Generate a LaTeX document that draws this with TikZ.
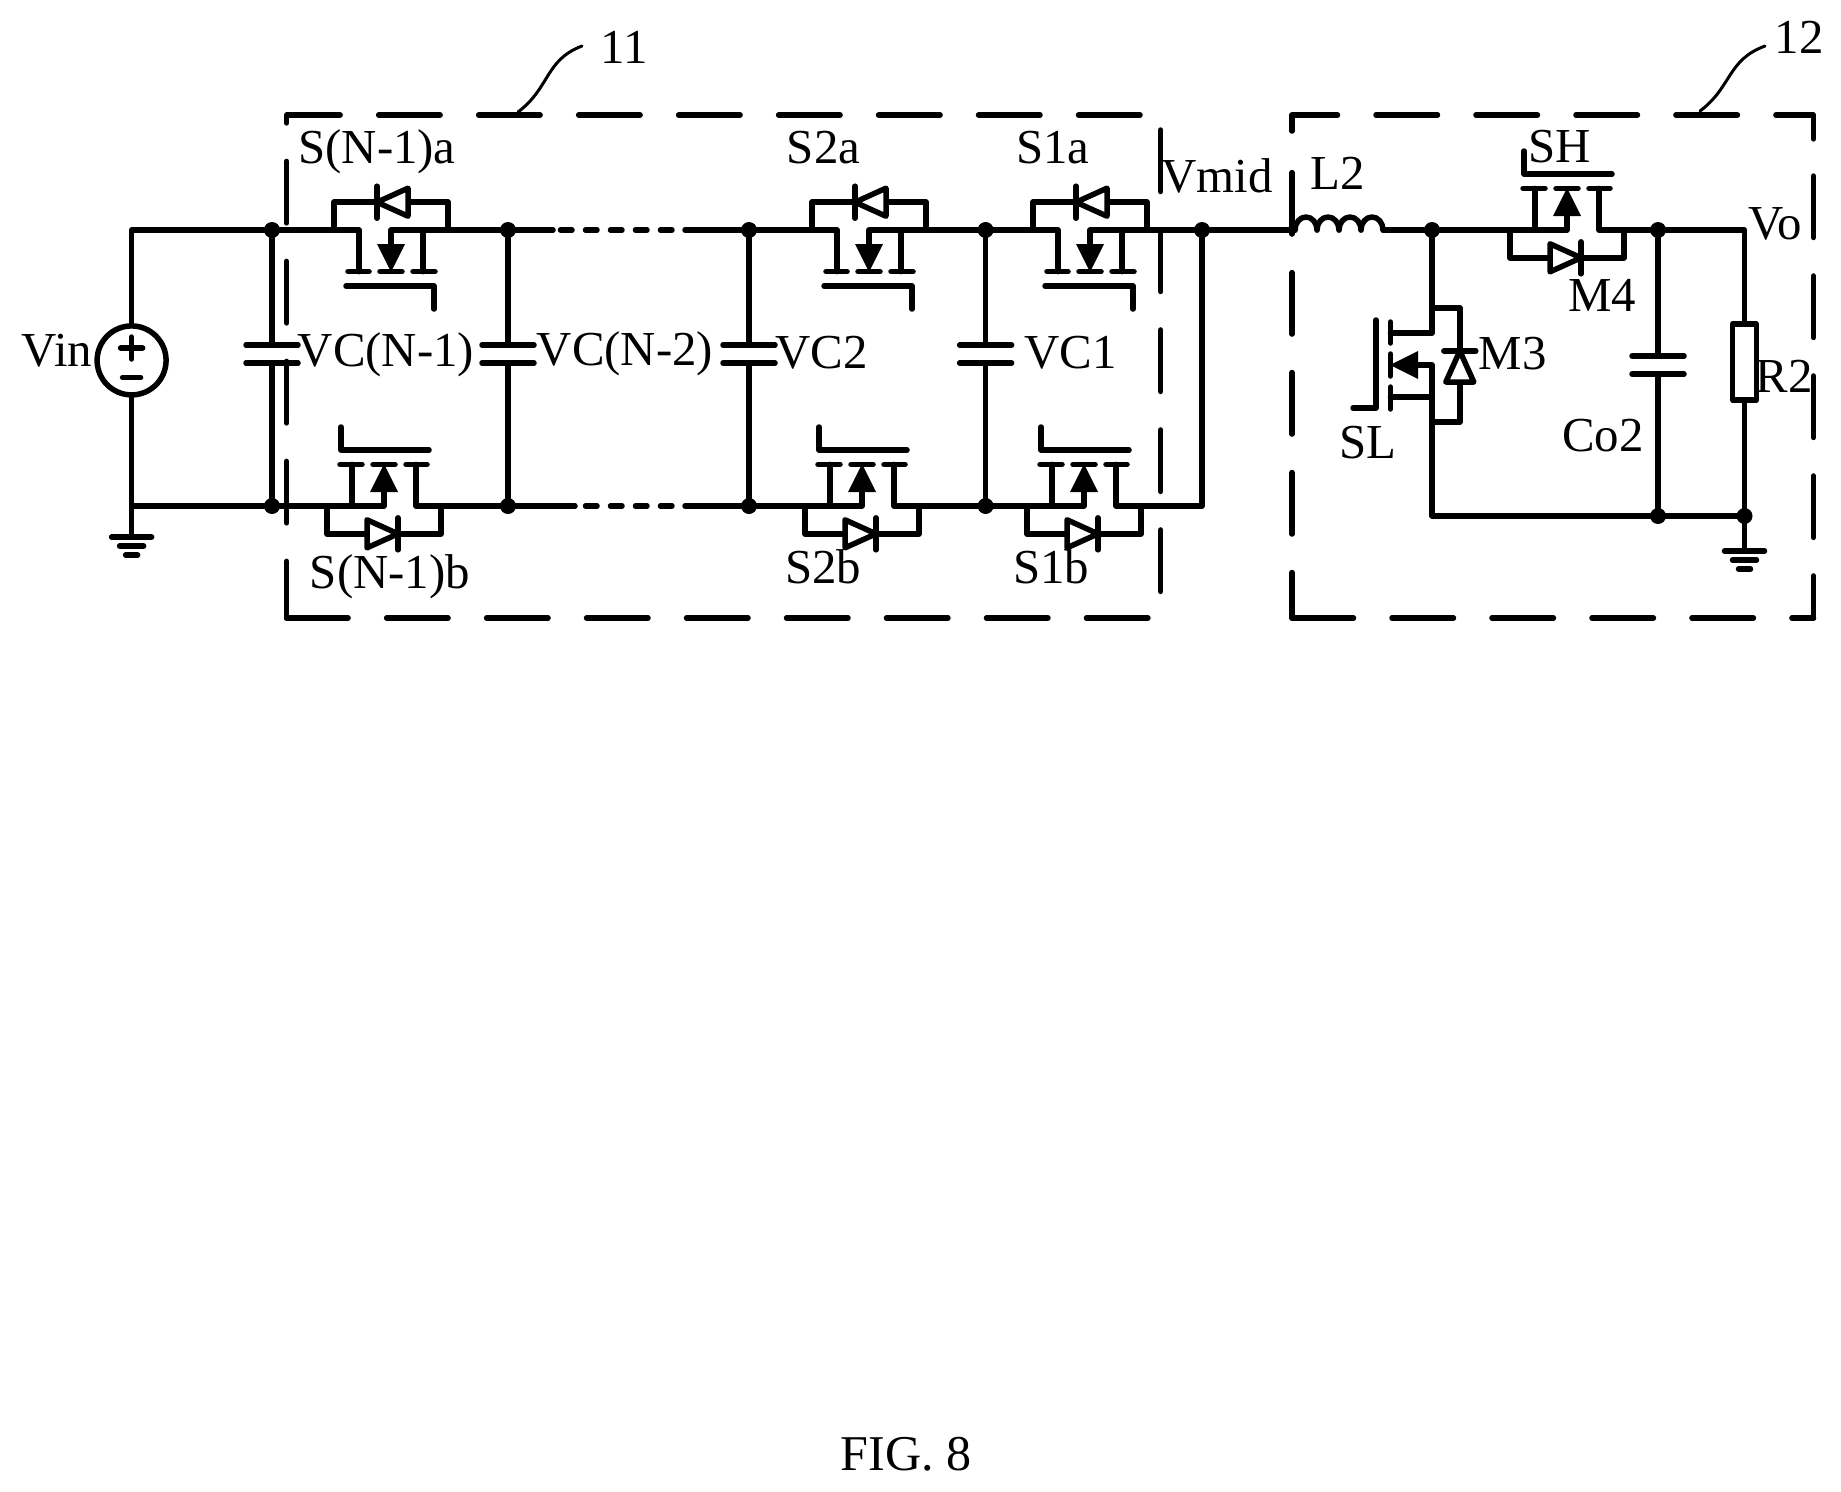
\documentclass[tikz,border=0pt]{standalone}
\usepackage{fontspec}
\setmainfont{Liberation Serif}
\usetikzlibrary{positioning}
\tikzset{
  dotn/.style={circle,fill=black,inner sep=0pt,outer sep=0pt,minimum size=3.2mm},
  lbl/.style={anchor=base,inner sep=0pt,font=\fontsize{27.8}{30}\selectfont},
  boxline/.style={dash pattern=on 1.23cm off .77cm},
  dashwire/.style={dash pattern=on .23cm off .27cm},
  pics/fetsw/.style={code={
    \coordinate (-a) at (-57,0);
    \coordinate (-b) at (57,0);
    \draw (-a) -- (-32,0) -- (-32,41.6);
    \draw (-b) -- (0,0) -- (0,20);
    \draw (32,0) -- (32,41.6);
    \draw (-43,41.6) -- (-22,41.6);
    \draw (-11,41.6) -- (11,41.6);
    \draw (22,41.6) -- (44,41.6);
    \draw (-45,56) -- (43,56) -- (43,79);
    \fill (0,42) -- (-14,14) -- (14,14) -- cycle;
    \draw (-a) -- (-57,-27.8) -- (57,-27.8) -- (-b);
    \draw[fill=white] (-14,-27.8) -- (17,-41.8) -- (17,-13.8) -- cycle;
    \draw (-14,-43.8) -- (-14,-11.8);
  }},
  pics/capv/.style={code={
    \coordinate (-t) at (0,-9);
    \coordinate (-b) at (0,9);
    \draw (-26,-9) -- (26,-9);
    \draw (-26,9) -- (26,9);
  }},
  pics/gndsym/.style={code={
    \coordinate (-t) at (0,0);
    \draw (-20,0) -- (20,0);
    \draw (-12,9) -- (12,9);
    \draw (-6,18) -- (6,18);
  }},
}
\begin{document}
\begin{tikzpicture}[x=0.02cm,y=-0.02cm,line width=1.1mm,line cap=round,line join=round]
  \useasboundingbox (0,0) rectangle (1841,1491);

  % junctions
  \node[dotn] (n1t) at (272,230) {};
  \node[dotn] (n1b) at (272,506) {};
  \node[dotn] (n2t) at (508,230) {};
  \node[dotn] (n2b) at (508,506) {};
  \node[dotn] (n3t) at (749,230) {};
  \node[dotn] (n3b) at (749,506) {};
  \node[dotn] (n4t) at (985.6,230) {};
  \node[dotn] (n4b) at (985.6,506) {};
  \node[dotn] (n5t) at (1202,230) {};
  \coordinate (n5b) at (1202,506);
  \node[dotn] (n6t) at (1432,230) {};
  \coordinate (n6b) at (1432,516);
  \node[dotn] (n7t) at (1658,230) {};
  \node[dotn] (n7b) at (1658,516) {};
  \coordinate (n8t) at (1744.5,230);
  \node[dotn] (n8b) at (1744.5,516) {};

  % source side
  \node[draw,circle,inner sep=0pt,minimum size=1.38cm] (vin) at (131.6,360.4) {};
  \coordinate (vtl) at (131.6,230);
  \coordinate (vbl) at (131.6,506);
  \draw (120.6,348) -- (142.6,348);
  \draw (131.6,337) -- (131.6,359);
  \draw (122.6,377.5) -- (140.6,377.5);
  \pic (gnda) at (131.6,537) {gndsym};
  \draw (vin) -- (vtl) -- (n1t);
  \draw (vin) -- (vbl) -- (n1b);
  \draw (vbl) -- (gnda-t);

  % switches
  \pic (sNa) at (391,230) {fetsw};
  \pic (s2a) at (869,230) {fetsw};
  \pic (s1a) at (1090,230) {fetsw};
  \pic[rotate=180] (sNb) at (384,506) {fetsw};
  \pic[rotate=180] (s2b) at (862,506) {fetsw};
  \pic[rotate=180] (s1b) at (1084,506) {fetsw};
  \pic[rotate=180] (sh) at (1567,230) {fetsw};
  \pic[rotate=-90] (sl) at (1432,365) {fetsw};

  % capacitors
  \pic (c4) at (272,354) {capv};
  \pic (c3) at (508,354) {capv};
  \pic (c2) at (749,354) {capv};
  \pic (c1) at (985.6,354) {capv};
  \pic (co) at (1658,365) {capv};
  \draw (n1t) -- (c4-t);
  \draw (c4-b) -- (n1b);
  \draw (n2t) -- (c3-t);
  \draw (c3-b) -- (n2b);
  \draw (n3t) -- (c2-t);
  \draw (c2-b) -- (n3b);
  \draw (n4t) -- (c1-t);
  \draw (c1-b) -- (n4b);
  \draw (n7t) -- (co-t);
  \draw (co-b) -- (n7b);

  % rails
  \coordinate (tda) at (560.5,230);
  \coordinate (tdb) at (672.5,230);
  \coordinate (tdc) at (685,230);
  \coordinate (tdz) at (553,230);
  \coordinate (bda) at (585.5,506);
  \coordinate (bdb) at (672.5,506);
  \coordinate (bdc) at (685,506);
  \coordinate (bdz) at (575,506);
  \draw (n1t) -- (sNa-a);
  \draw (sNa-b) -- (n2t) -- (tdz);
  \draw[dashwire] (tda) -- (tdb);
  \draw (tdc) -- (n3t) -- (s2a-a);
  \draw (s2a-b) -- (n4t) -- (s1a-a);
  \draw (s1a-b) -- (n5t);
  \draw (n1b) -- (sNb-b);
  \draw (sNb-a) -- (n2b) -- (bdz);
  \draw[dashwire] (bda) -- (bdb);
  \draw (bdc) -- (n3b) -- (s2b-b);
  \draw (s2b-a) -- (n4b) -- (s1b-b);
  \draw (s1b-a) -- (n5b) -- (n5t);

  % inductor
  \coordinate (l2a) at (1295,230);
  \coordinate (l2b) at (1383,230);
  \draw (n5t) -- (l2a);
  \foreach \i in {0,1,2,3}
    \draw (1295+22*\i,230) arc[start angle=180,end angle=360,x radius=11,y radius=13];
  \draw (l2b) -- (n6t);

  % output side
  \node[draw,rectangle,inner sep=0pt,minimum width=.48cm,minimum height=1.52cm] (r2) at (1744.5,362) {};
  \pic (gndb) at (1744.5,551) {gndsym};
  \draw (n6t) -- (sh-b);
  \draw (sh-a) -- (n7t) -- (n8t) -- (r2);
  \draw (r2) -- (n8b) -- (gndb-t);
  \draw (n6t) -- (sl-a);
  \draw (sl-b) -- (n6b) -- (n7b) -- (n8b);

  % dashed frames
  \draw[boxline] (1140,115) -- (286.6,115) -- (286.6,618);
  \draw[boxline] (286.6,618) -- (1150,618);
  \draw[boxline] (1160.7,130) -- (1160.7,594);
  \draw[boxline] (1292,131) -- (1292,115) -- (1813.5,115) -- (1813.5,141);
  \draw[boxline] (1813.5,176) -- (1813.5,618);
  \draw[boxline] (1292,618) -- (1813.5,618);
  \draw[boxline,dash phase=.32cm] (1292,618) -- (1292,168);

  % leaders
  \draw[line width=.6mm] (518,112) .. controls (550,88) and (545,60) .. (582,46);
  \draw[line width=.6mm] (1700,111) .. controls (1732,87) and (1727,60) .. (1765,46);

  % labels
  \node[lbl] (t11) at (624,63) {11};
  \node[lbl] (t12) at (1799,53) {12};
  \node[lbl] (tvin) at (57,366.5) {Vin};
  \node[lbl] (tvc4) at (386,366.5) {VC(N-1)};
  \node[lbl] (tvc3) at (625,365.5) {VC(N-2)};
  \node[lbl] (tvc2) at (821.6,368) {VC2};
  \node[lbl] (tvc1) at (1070.6,368) {VC1};
  \node[lbl] (tsNa) at (377,163) {S(N-1)a};
  \node[lbl] (tsNb) at (390,588.6) {S(N-1)b};
  \node[lbl] (ts2a) at (823.6,163) {S2a};
  \node[lbl] (ts1a) at (1053,163) {S1a};
  \node[lbl] (ts2b) at (823,583) {S2b};
  \node[lbl] (ts1b) at (1051,583) {S1b};
  \node[lbl] (tmid) at (1217,192) {Vmid};
  \node[lbl] (tl2) at (1337.6,189) {L2};
  \node[lbl] (tsh) at (1560,162.5) {SH};
  \node[lbl] (tvo) at (1775.6,239.6) {Vo};
  \node[lbl] (tm4) at (1602,311) {M4};
  \node[lbl] (tm3) at (1512.5,369) {M3};
  \node[lbl] (tsl) at (1368,458) {SL};
  \node[lbl] (tco) at (1603,451) {Co2};
  \node[lbl] (tr2) at (1784,392.6) {R2};
  \node[lbl,font=\fontsize{28.5}{30}\selectfont] (tfig) at (906,1470) {FIG. 8};
\end{tikzpicture}
\end{document}
